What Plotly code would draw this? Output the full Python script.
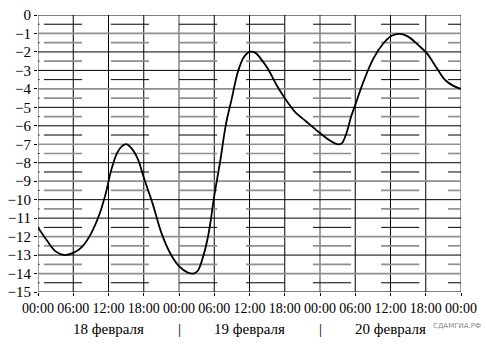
import plotly.graph_objects as go

# ---- data ----
hours = [0, 1.5, 3.0, 4.5, 6.0, 7.5, 9.0, 10.5, 11.5, 12.5, 13.5, 14.3, 15.1, 16.0, 17.0, 18.0,
         19.5, 21.0, 22.5, 24.0, 25.5, 26.5, 27.2, 28.0, 29.0, 30.0, 31.0, 32.0, 33.0, 34.0, 35.0,
         36.0, 37.0, 38.0, 39.2, 40.6, 42.0, 43.7, 45.7, 47.7, 49.7, 51.0, 51.7, 52.5, 53.3, 54.0,
         55.4, 57.1, 58.8, 60.2, 61.6, 63.0, 64.7, 66.2, 67.9, 69.3, 70.7, 72.0]
temps = [-11.5, -12.2, -12.8, -13.0, -12.88, -12.55, -11.85, -10.75, -9.7, -8.35, -7.45, -7.1, -7.0,
         -7.25, -7.8, -8.8, -10.2, -11.8, -12.9, -13.6, -13.95, -14.0, -13.85, -13.2, -11.9, -9.8,
         -7.94, -5.9, -4.5, -3.1, -2.3, -2.0, -2.05, -2.4, -2.95, -3.79, -4.5, -5.23, -5.78, -6.32,
         -6.8, -7.0, -6.95, -6.4, -5.5, -4.87, -3.61, -2.35, -1.53, -1.12, -1.02, -1.17, -1.62,
         -2.08, -2.89, -3.52, -3.84, -4.0]

x_tickvals = list(range(0, 73, 6))
x_ticktext = ["00:00", "06:00", "12:00", "18:00"] * 3 + ["00:00"]
y_tickvals = list(range(0, -16, -1))
y_ticktext = ["0"] + ["\u2212" + str(-v) for v in y_tickvals[1:]]
day_labels = ["18 февраля", "19 февраля", "20 февраля"]
day_centers = [12, 36, 60]
day_separators = [24, 48]

SERIF = "Times New Roman"
BLACK = dict(color="black", width=1)
GRAY = dict(color="#8f8f8f", width=1.7)

# grid line shades (B = dark, G = light) for each half-unit from 0 down to -15
h_shade = "BBGGBGBBGGBGBBGGBBGGBGBBGGBGGBB"
v_shade = "GBBBGBBBGBBBG"

# ---- grid shapes ----
shapes = []
for i, h in enumerate(x_tickvals):
    shapes.append(dict(type="line", xref="x", yref="y", x0=h, x1=h, y0=-15, y1=0,
                       line=GRAY if v_shade[i] == "G" else BLACK, layer="below"))
dash_starts = [1.0, 12.4, 24.0, 35.4, 46.8, 58.4, 69.8]
dash_len = 6.5
for k in range(31):
    yv = -0.5 * k
    st = GRAY if h_shade[k] == "G" else BLACK
    if k % 2 == 0:
        shapes.append(dict(type="line", xref="x", yref="y", x0=0, x1=72, y0=yv, y1=yv,
                           line=st, layer="below"))
    else:
        for s in dash_starts:
            e = min(s + dash_len, 72)
            shapes.append(dict(type="line", xref="x", yref="y", x0=s, x1=e, y0=yv, y1=yv,
                               line=st, layer="below"))
        shapes.append(dict(type="line", xref="x", yref="y", x0=0, x1=0.25, y0=yv, y1=yv,
                           line=BLACK, layer="below"))

fig = go.Figure()
fig.add_trace(go.Scatter(x=hours, y=temps, mode="lines",
                         line=dict(color="black", width=1.8, shape="spline", smoothing=1.0),
                         hoverinfo="skip", showlegend=False))

annotations = []
for c, t in zip(day_centers, day_labels):
    annotations.append(dict(x=c, y=0, xref="x", yref="paper", text=t, showarrow=False,
                            yanchor="middle", yshift=-37,
                            font=dict(family=SERIF, size=15)))
for s in day_separators:
    annotations.append(dict(x=s, y=0, xref="x", yref="paper", text="|", showarrow=False,
                            yanchor="middle", yshift=-37,
                            font=dict(family=SERIF, size=15)))
annotations.append(dict(x=1, y=0, xref="paper", yref="paper", text="СДАМГИА.РФ",
                        showarrow=False, xanchor="right", yanchor="middle", xshift=22, yshift=-34,
                        font=dict(family="DejaVu Sans", size=7, color="#888888")))

fig.update_layout(
    width=487, height=352,
    margin=dict(l=38, r=26, t=15, b=60),
    paper_bgcolor="white", plot_bgcolor="white",
    shapes=shapes, annotations=annotations,
    font=dict(color="black"),
    xaxis=dict(range=[0, 72], tickvals=x_tickvals, ticktext=x_ticktext, showgrid=False,
               zeroline=False, showline=False,
               ticks="outside", ticklen=3, tickcolor="black", automargin=False,
               tickfont=dict(family=SERIF, size=14)),
    yaxis=dict(range=[-15, 0], tickvals=y_tickvals, ticktext=y_ticktext, showgrid=False,
               zeroline=False, showline=False,
               ticks="outside", ticklen=3, tickcolor="black", automargin=False,
               tickfont=dict(family=SERIF, size=15)),
)
fig.write_html("out.html")
